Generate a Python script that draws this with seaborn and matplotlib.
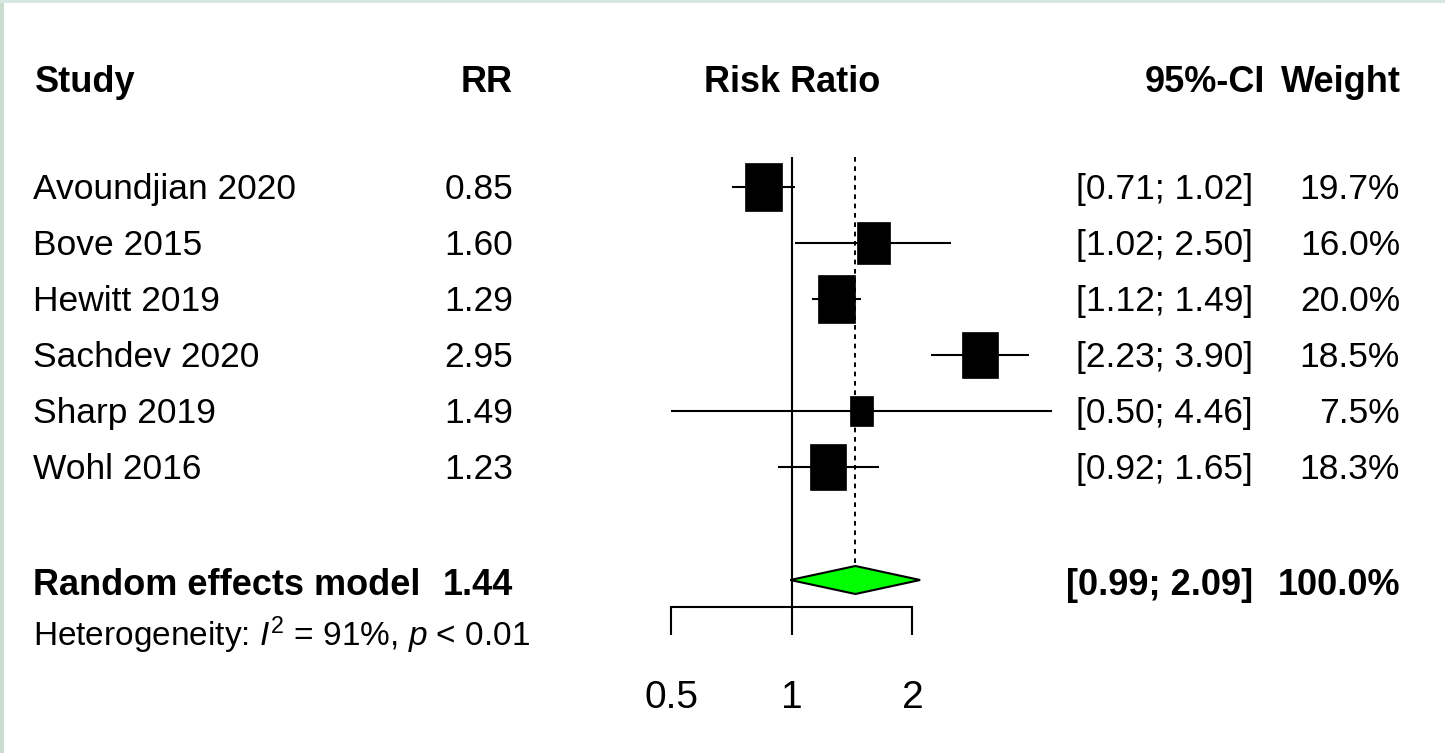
import numpy as np
import matplotlib
matplotlib.use("Agg")
import matplotlib.pyplot as plt
import matplotlib.transforms as mtransforms
from matplotlib.patches import Rectangle, Polygon
import seaborn as sns

# ---- data -------------------------------------------------------------
studies = ["Avoundjian 2020", "Bove 2015", "Hewitt 2019",
           "Sachdev 2020", "Sharp 2019", "Wohl 2016"]
rr = [0.85, 1.60, 1.29, 2.95, 1.49, 1.23]
ci_low = [0.71, 1.02, 1.12, 2.23, 0.50, 0.92]
ci_high = [1.02, 2.50, 1.49, 3.90, 4.46, 1.65]
weights = [19.7, 16.0, 20.0, 18.5, 7.5, 18.3]

pooled_label = "Random effects model"
pooled_rr = 1.44
pooled_low = 0.99
pooled_high = 2.09
pooled_weight = 100.0
i2 = 91
p_text = "< 0.01"

axis_ticks = [0.5, 1, 2]
headers = ["Study", "RR", "Risk Ratio", "95%-CI", "Weight"]

# ---- style ------------------------------------------------------------
sns.set_theme(style="white")
plt.rcParams["font.family"] = ["Liberation Sans", "DejaVu Sans"]
plt.rcParams["text.color"] = "black"
plt.rcParams["mathtext.fontset"] = "custom"
plt.rcParams["mathtext.rm"] = "Liberation Sans"
plt.rcParams["mathtext.it"] = "Liberation Sans:italic"

W, H = 1445, 753
fig = plt.figure(figsize=(W / 100, H / 100), dpi=100)
fig.patch.set_facecolor("white")

# one canvas-wide axes: log2 x scale centred on RR = 1, y in layout units
ax = fig.add_axes([0, 0, 1, 1])
ax.set_xscale("log", base=2)
ref_px, px_per_doubling = 792, 120.5
ax.set_xlim(2 ** (-ref_px / px_per_doubling), 2 ** ((W - ref_px) / px_per_doubling))
ax.set_ylim(H, 0)
ax.axis("off")

col = mtransforms.blended_transform_factory(ax.transAxes, ax.transData)

def fx(px):
    return px / W

# layout
row_y = 187 + 56 * np.arange(len(studies))
header_y = 79
pooled_y = 580
het_y = 634
axis_y = 607
tick_len = 28
tick_label_y = 694
line_top = 157

FS = 25.5
FS_BOLD = 26
FS_HET = 24
FS_TICK = 28

def baseline(y, size):
    # y is the centre of the capitals
    return y + 0.358 * size * 100 / 72

def put(x_px, y, s, size, ha="left", weight="normal"):
    ax.text(fx(x_px), baseline(y, size), s, transform=col,
            ha=ha, va="baseline", fontsize=size, fontweight=weight,
            color="black")

# ---- header -----------------------------------------------------------
put(35, header_y, headers[0], FS_BOLD, "left", "bold")
put(513, header_y, headers[1], FS_BOLD, "right", "bold")
ax.text(1.0, baseline(header_y, FS_BOLD), headers[2], ha="center",
        va="baseline", fontsize=FS_BOLD, fontweight="bold", color="black")
put(1265, header_y, headers[3], FS_BOLD, "right", "bold")
put(1401, header_y, headers[4], FS_BOLD, "right", "bold")

# ---- reference lines ---------------------------------------------------
ax.plot([1, 1], [line_top, axis_y], color="black", lw=1.5, solid_capstyle="butt")
ax.plot([pooled_rr, pooled_rr], [line_top, pooled_y - 14], color="black",
        lw=1.4, linestyle=(0, (2.4, 2.4)))

# ---- study rows --------------------------------------------------------
box_w_px, box_h_px, w_max = 37.0, 48.0, max(weights)
for y, name, est, lo, hi, w in zip(row_y, studies, rr, ci_low, ci_high, weights):
    ax.plot([lo, hi], [y, y], color="black", lw=1.5, solid_capstyle="butt")
    scale = np.sqrt(w / w_max)
    half = (box_w_px * scale / 2) / px_per_doubling
    bh = box_h_px * scale
    x0, x1 = est * 2 ** (-half), est * 2 ** half
    ax.add_patch(Rectangle((x0, y - bh / 2), x1 - x0, bh,
                           facecolor="black", edgecolor="black", lw=0.5))
    put(33, y - 1, name, FS)
    put(513, y - 1, f"{est:.2f}", FS, "right")
    put(1253, y - 1, f"[{lo:.2f}; {hi:.2f}]", FS, "right")
    put(1400, y - 1, f"{w:.1f}%", FS, "right")

# ---- pooled estimate ---------------------------------------------------
dh = 14
ax.add_patch(Polygon([(pooled_low, pooled_y), (pooled_rr, pooled_y - dh),
                      (pooled_high, pooled_y), (pooled_rr, pooled_y + dh)],
                     closed=True, facecolor="#00ff00", edgecolor="black", lw=1.5))
put(33, pooled_y + 2, pooled_label, FS_BOLD, "left", "bold")
put(513, pooled_y + 2, f"{pooled_rr:.2f}", FS_BOLD, "right", "bold")
put(1253, pooled_y + 2, f"[{pooled_low:.2f}; {pooled_high:.2f}]", FS_BOLD, "right", "bold")
put(1400, pooled_y + 2, f"{pooled_weight:.1f}%", FS_BOLD, "right", "bold")
put(33, het_y, f"Heterogeneity: $I^2$ = {i2}%, $p$ {p_text}", FS_HET)

# ---- x axis ------------------------------------------------------------
ax.plot([axis_ticks[0], axis_ticks[-1]], [axis_y, axis_y], color="black", lw=1.5,
        solid_capstyle="projecting")
for t in axis_ticks:
    ax.plot([t, t], [axis_y, axis_y + tick_len], color="black", lw=1.5,
            solid_capstyle="butt")
    ax.text(t, baseline(tick_label_y, FS_TICK), f"{t:g}",
            ha="center", va="baseline", fontsize=FS_TICK, color="black")

# ---- thin frame strips along the left and top edges ---------------------
fig.add_artist(Rectangle((0, 0), 4 / W, 1, transform=fig.transFigure,
                         facecolor="#c9dccd", edgecolor="none"))
fig.add_artist(Rectangle((0, 1 - 3 / H), 1, 3 / H, transform=fig.transFigure,
                         facecolor="#d6e7e4", edgecolor="none"))

fig.savefig("out.png", dpi=100, facecolor="white")
